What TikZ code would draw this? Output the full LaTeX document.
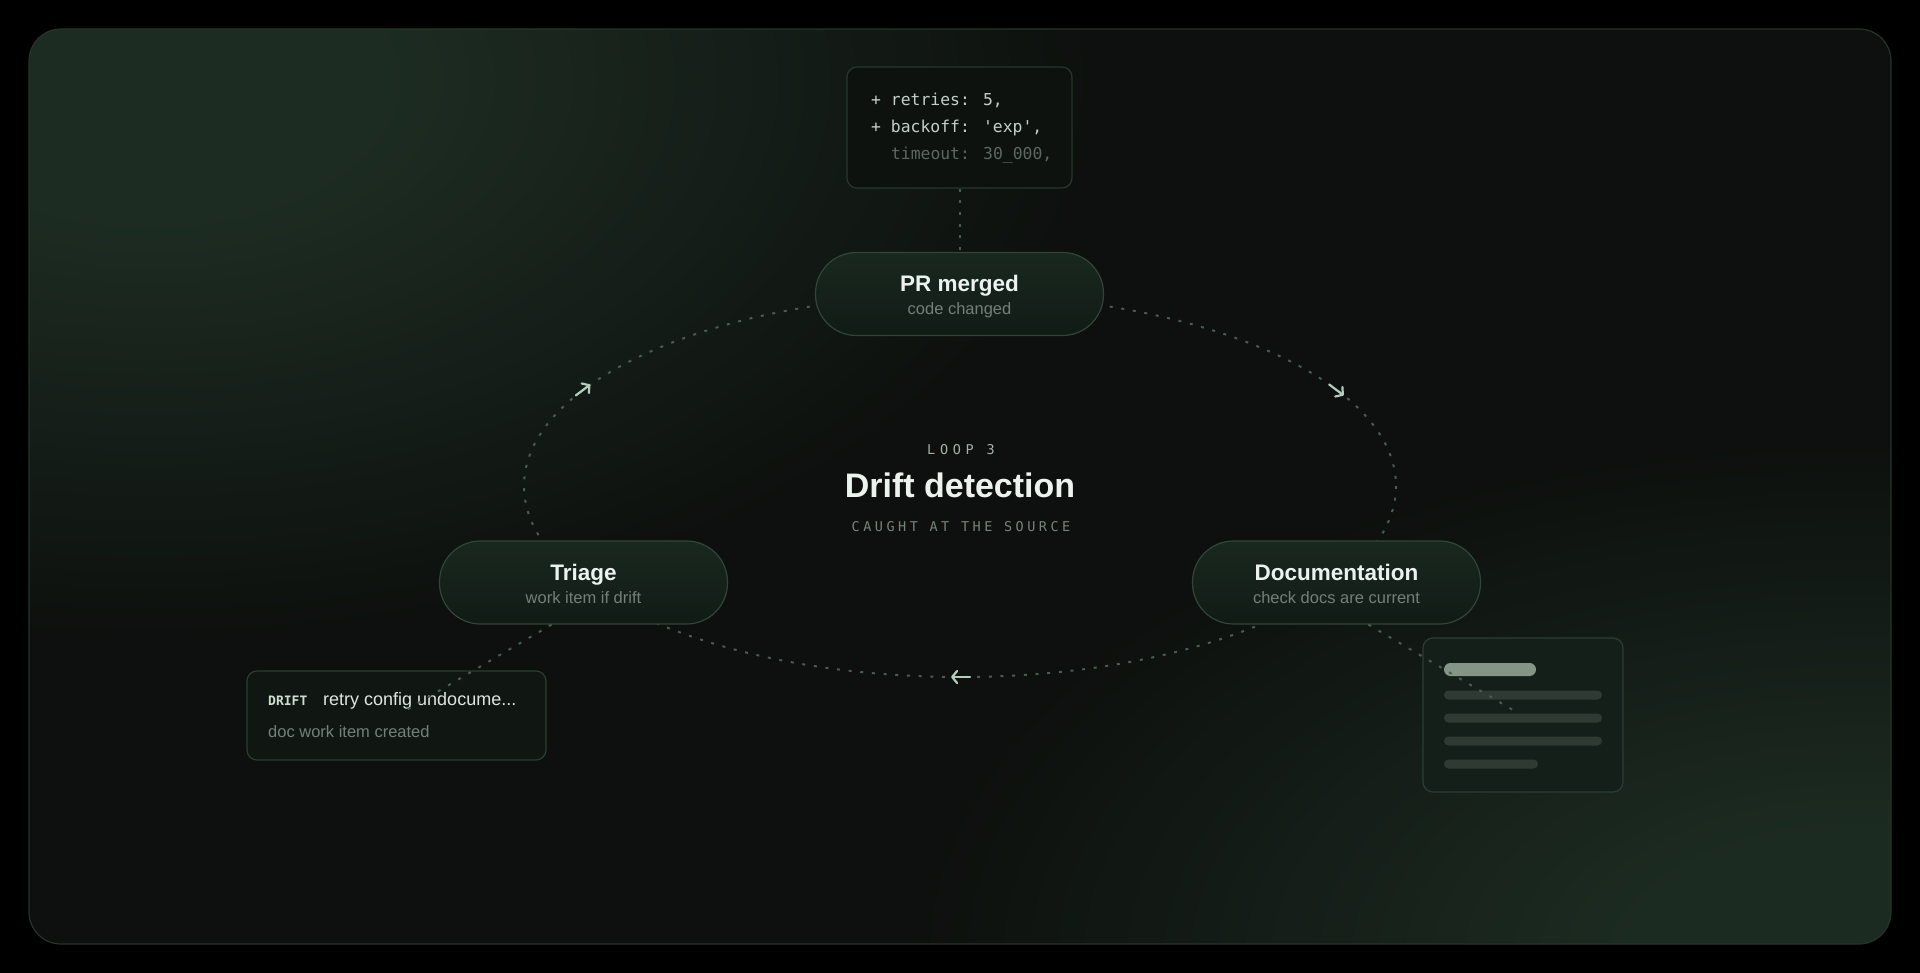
\documentclass[tikz,border=0pt]{standalone}
\usepackage{fontspec}
\setmainfont{Liberation Sans}
\newfontfamily\codefont{DejaVu Sans Mono}
\newfontfamily\loopfont[LetterSpace=35]{DejaVu Sans Mono}
\newfontfamily\capfont[LetterSpace=26]{DejaVu Sans Mono}
\usetikzlibrary{arrows.meta,calc}
\definecolor{baseC}{RGB}{13,16,14}
\definecolor{glowA}{RGB}{29,44,34}
\definecolor{glowB}{RGB}{28,43,33}
\definecolor{frameLine}{RGB}{38,52,42}
\definecolor{pillTop}{RGB}{25,40,31}
\definecolor{pillBot}{RGB}{17,27,21}
\definecolor{pillLine}{RGB}{48,70,56}
\definecolor{codeFill}{RGB}{13,18,15}
\definecolor{codeLine}{RGB}{38,56,44}
\definecolor{cardFill}{RGB}{16,23,19}
\definecolor{cardLine}{RGB}{42,62,49}
\definecolor{docFill}{RGB}{21,31,25}
\definecolor{docLine}{RGB}{44,62,51}
\definecolor{dotC}{RGB}{72,92,80}
\definecolor{arrowC}{RGB}{180,204,186}
\definecolor{titleC}{RGB}{236,242,237}
\definecolor{subC}{RGB}{115,128,119}
\definecolor{codeC}{RGB}{196,208,199}
\definecolor{codeDim}{RGB}{92,104,96}
\definecolor{loopC}{RGB}{165,177,168}
\definecolor{capC}{RGB}{120,131,123}
\definecolor{driftC}{RGB}{205,222,207}
\definecolor{retryC}{RGB}{222,230,223}
\definecolor{barHi}{RGB}{132,148,135}
\definecolor{barC}{RGB}{46,58,50}
\pgfdeclareradialshading{glowTL}{\pgfpoint{0bp}{0bp}}{color(0bp)=(glowA); color(6bp)=(glowA); color(25bp)=(baseC); color(50bp)=(baseC)}
\pgfdeclareradialshading{glowBR}{\pgfpoint{0bp}{0bp}}{color(0bp)=(glowB); color(6bp)=(glowB); color(25bp)=(baseC); color(50bp)=(baseC)}
\begin{document}
\begin{tikzpicture}[x=1pt,y=-1pt,
  pill/.style={rectangle, rounded corners=41pt, minimum width=288pt, minimum height=83pt,
    draw=pillLine, line width=1.2pt, top color=pillTop, bottom color=pillBot, inner sep=0pt},
  ttl/.style={text=titleC, font=\fontsize{22.5}{27}\selectfont\bfseries, inner sep=0pt, anchor=base},
  sub/.style={text=subC, font=\fontsize{16.5}{20}\selectfont, inner sep=0pt, anchor=base},
  codebox/.style={rectangle, rounded corners=10pt, minimum width=225pt, minimum height=121pt,
    fill=codeFill, draw=codeLine, line width=1.2pt, inner sep=0pt},
  codetxt/.style={font=\codefont\fontsize{16.4}{20}\selectfont, inner sep=0pt, anchor=base west, text=codeC},
  dotline/.style={draw=dotC, line width=2pt, dash pattern=on 3pt off 8.7pt},
  flow/.style={draw=arrowC, line width=2.2pt, line cap=round, -{Straight Barb[length=5pt,width=12pt,round]}},
  card/.style={rectangle, rounded corners=10pt, fill=cardFill, draw=cardLine, line width=1.2pt, inner sep=0pt},
  doccard/.style={rectangle, rounded corners=10pt, fill=docFill, draw=docLine, line width=1.2pt, inner sep=0pt},
]
\useasboundingbox (0,0) rectangle (1920,973);
\fill[black] (0,0) rectangle (1920,973);
\fill[baseC, rounded corners=32pt] (29,29) rectangle (1891,944);
\begin{scope}
  \clip[rounded corners=32pt] (29,29) rectangle (1891,944);
  \shade[shading=glowTL] (150,80) ellipse [x radius=950, y radius=560];
  \shade[shading=glowBR] (1860,960) ellipse [x radius=950, y radius=520];
\end{scope}
\draw[frameLine, line width=1.2pt, rounded corners=32pt] (29,29) rectangle (1891,944);

% loop
\coordinate (loopc) at (960,486);
\draw[dotline] (loopc) ellipse [x radius=436, y radius=191];

% arrows on the loop
\coordinate (arrL) at (583,390);
\coordinate (arrR) at (1336.5,390);
\coordinate (arrB) at (960,677);
\draw[flow] ($(arrL)+(-7.2,5.4)$) -- ($(arrL)+(7.2,-5.4)$);
\draw[flow] ($(arrR)+(-7.2,-5.4)$) -- ($(arrR)+(7.2,5.4)$);
\draw[flow] ($(arrB)+(10,0)$) -- ($(arrB)+(-9,0)$);

% code box
\node[codebox] (code) at (959.5,127.5) {};
\node[pill] (pr) at (959.5,294) {};
\draw[dotline] (code.south) -- (pr.north);
\node[codetxt] (c1) at (871,106) {+ retries: 5,};
\node[codetxt] (c2) at (871,133) {+ backoff: 'exp',};
\node[codetxt, text=codeDim] (c3) at (890.8,160) {timeout: 30\_000,};

% nodes
\node[ttl] (prT) at ($(pr.center)+(0,-2)$) {PR merged};
\node[sub] (prS) at ($(pr.center)+(0,21)$) {code changed};

\node[pill] (triage) at (583.5,582.5) {};
\node[ttl] (triT) at ($(triage.center)+(0,-2)$) {Triage};
\node[sub] (triS) at ($(triage.center)+(0,21)$) {work item if drift};

\node[pill] (docs) at (1336.5,582.5) {};
\node[ttl] (docT) at ($(docs.center)+(0,-2)$) {Documentation};
\node[sub] (docS) at ($(docs.center)+(0,21)$) {check docs are current};

% centre title
\node[anchor=base, inner sep=0pt, text=loopC, font=\loopfont\fontsize{13.5}{16}\selectfont] (loopT) at (961,454) {LOOP 3};
\node[anchor=base, inner sep=0pt, text=titleC, font=\fontsize{34}{40}\selectfont\bfseries] (mainT) at (960,497) {Drift detection};
\node[anchor=base, inner sep=0pt, text=capC, font=\capfont\fontsize{13.5}{16}\selectfont] (capT) at (961,531) {CAUGHT AT THE SOURCE};

% drift card
\node[card, minimum width=299pt, minimum height=89pt] (drift) at (396.5,715.5) {};
\node[anchor=base west, inner sep=0pt, text=driftC, font=\codefont\bfseries\fontsize{13}{16}\selectfont] (driftTag) at (268,705) {DRIFT};
\node[anchor=base west, inner sep=0pt, text=retryC, font=\fontsize{18}{22}\selectfont] (driftMsg) at (323,705) {retry config undocume...};
\node[anchor=base west, inner sep=0pt, text=subC, font=\fontsize{16.5}{20}\selectfont] (driftSub) at (268,737) {doc work item created};
\coordinate (driftIn) at (403,712);
\draw[dotline] ([xshift=-32pt]triage.south) -- (driftIn);

% docs card
\node[doccard, minimum width=200pt, minimum height=154pt] (doccard) at (1523,715) {};
\fill[barHi, rounded corners=6.4pt] (1444,663) rectangle (1536,676);
\fill[barC, rounded corners=4.4pt] (1444,690.5) rectangle (1602,699.5);
\fill[barC, rounded corners=4.4pt] (1444,713.5) rectangle (1602,722.5);
\fill[barC, rounded corners=4.4pt] (1444,736.5) rectangle (1602,745.5);
\fill[barC, rounded corners=4.4pt] (1444,759.5) rectangle (1538,768.5);
\coordinate (docIn) at (1518,713);
\draw[dotline] ([xshift=32pt]docs.south) -- (docIn);
\end{tikzpicture}
\end{document}
